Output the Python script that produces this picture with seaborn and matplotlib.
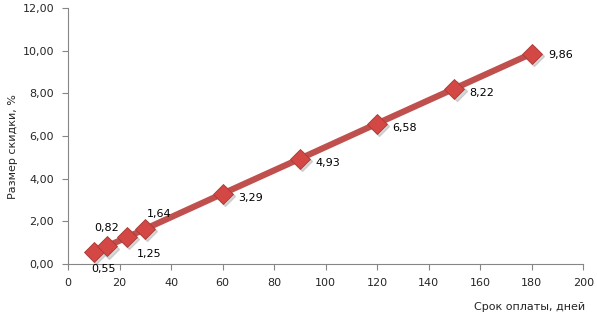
import matplotlib
matplotlib.use("Agg")
import matplotlib.pyplot as plt
import matplotlib.ticker as mticker
import seaborn as sns
import pandas as pd

days = [10, 15, 23, 30, 60, 90, 120, 150, 180]
discount = [0.55, 0.82, 1.25, 1.64, 3.29, 4.93, 6.58, 8.22, 9.86]
labels = ["0,55", "0,82", "1,25", "1,64", "3,29", "4,93", "6,58", "8,22", "9,86"]
# label offsets in points (dx, dy)
offsets = [(7, -12), (0, 13), (7, -12), (1, 11), (11, -3), (11, -3), (11, -3), (11, -3), (12, -1)]
aligns = ["center", "center", "left", "left", "left", "left", "left", "left", "left"]

df = pd.DataFrame({"days": days, "discount": discount})

sns.set_style("white")
plt.rcParams["font.family"] = ["DejaVu Sans"]

fig = plt.figure(figsize=(5.97, 3.16), dpi=100)
ax = fig.add_axes([0.114, 0.165, 0.863, 0.810])

red = "#C0504D"
# shadow
ax.plot([d + 0.8 for d in days], [v - 0.1 for v in discount], linestyle="none",
        marker="D", markersize=9.8, color="#AAAAAA", alpha=0.45, zorder=2)
sns.lineplot(data=df, x="days", y="discount", ax=ax, color=red, linewidth=4.5,
             marker="D", markersize=9.8, markerfacecolor="#D34744",
             markeredgecolor="#A83A37", markeredgewidth=0.6, zorder=3)

for x, y, lab, (dx, dy), ha in zip(days, discount, labels, offsets, aligns):
    ax.annotate(lab, (x, y), xytext=(dx, dy), textcoords="offset points",
                ha=ha, va="center", fontsize=8, color="black")

ax.set_xlim(0, 200)
ax.set_ylim(0, 12)
ax.set_xticks(range(0, 201, 20))
ax.set_yticks(range(0, 13, 2))
ax.yaxis.set_major_formatter(mticker.FuncFormatter(lambda v, p: f"{v:.2f}".replace(".", ",")))
ax.tick_params(axis="both", which="major", labelsize=8, length=4, width=0.8,
               color="#868686", direction="out", bottom=True, left=True, pad=6)
for s in ["top", "right"]:
    ax.spines[s].set_visible(False)
for s in ["left", "bottom"]:
    ax.spines[s].set_color("#868686")
    ax.spines[s].set_linewidth(0.8)
ax.set_xlabel("")
ax.set_ylabel("")
fig.text(0.98, 0.03, "Срок оплаты, дней", ha="right", va="center", fontsize=8)
fig.text(0.022, 0.535, "Размер скидки, %", ha="center", va="center", rotation=90, fontsize=8)

fig.savefig("out.png", dpi=100)
